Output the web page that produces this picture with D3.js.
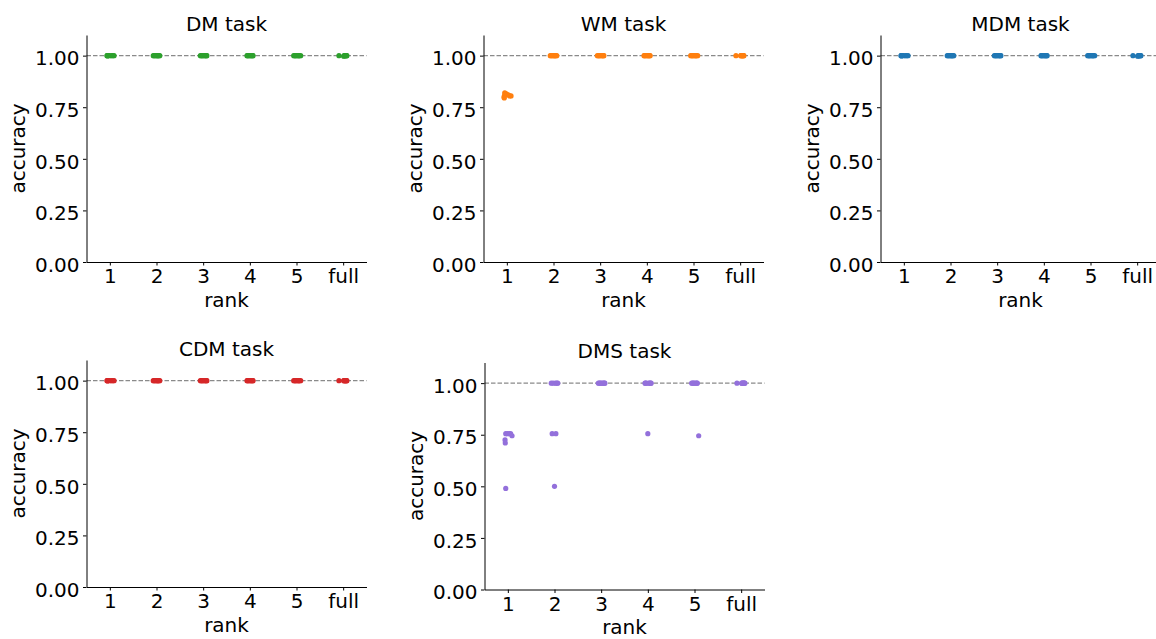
<!DOCTYPE html>
<html>
<head>
<meta charset="utf-8">
<script src="https://cdn.jsdelivr.net/npm/d3@7"></script>
<style>
  html, body { margin: 0; padding: 0; background: #fff; }
  svg { display: block; font-family: "DejaVu Sans", sans-serif; }
</style>
</head>
<body>
<svg id="chart" width="1156" height="639"></svg>
<script>
// ---------- data ----------
const ranks = ["1", "2", "3", "4", "5", "full"];
const yTicks = [0, 0.25, 0.5, 0.75, 1.0];
const taskNames = ["DM task", "WM task", "MDM task", "CDM task", "DMS task"];
const taskColors = ["#2ca02c", "#ff7f0e", "#1f77b4", "#d62728", "#9370db"];
const referenceLine = 1.0;

// within-category jitter (in category units), one row per rank
const jitter = [
  [-0.045, -0.01, 0.03, 0.06, 0.09, -0.06, -0.055, -0.045],
  [-0.05, 0.03, 0.0, -0.07, 0.02, 0.07, -0.03, 0.05],
  [-0.06, -0.02, 0.03, 0.07, -0.04, 0.0, 0.05, 0.08],
  [0.0, -0.06, 0.04, -0.03, 0.07, -0.05, 0.02, 0.06],
  [0.09, -0.06, -0.02, 0.03, 0.06, -0.04, 0.0, 0.05],
  [-0.09, 0.02, 0.05, 0.08, 0.03, 0.06, 0.01, 0.07]
];

// accuracy per network, one row per rank (1..5, full)
const dmAccuracy = [
  [1, 1, 1, 1, 1, 1, 1, 1],
  [1, 1, 1, 1, 1, 1, 1, 1],
  [1, 1, 1, 1, 1, 1, 1, 1],
  [1, 1, 1, 1, 1, 1, 1, 1],
  [1, 1, 1, 1, 1, 1, 1, 1],
  [1, 1, 1, 1, 1, 1, 0.997, 1]
];
const wmAccuracy = [
  [0.81, 0.815, 0.81, 0.805, 0.805, 0.80, 0.795, 0.82],
  [1, 1, 1, 1, 1, 1, 1, 1],
  [1, 1, 1, 1, 1, 1, 1, 1],
  [1, 1, 1, 1, 1, 1, 1, 1],
  [1, 1, 1, 1, 1, 1, 1, 1],
  [1, 1, 1, 1, 1, 1, 1, 1]
];
const mdmAccuracy = [
  [1, 1, 1, 1, 1, 1, 1, 1],
  [1, 1, 1, 1, 1, 1, 1, 1],
  [1, 1, 1, 1, 1, 1, 1, 1],
  [1, 1, 1, 1, 1, 1, 1, 1],
  [1, 1, 1, 1, 1, 1, 1, 1],
  [1, 1, 1, 1, 1, 1, 0.997, 1]
];
const cdmAccuracy = [
  [1, 1, 1, 1, 1, 1, 1, 1],
  [1, 1, 1, 1, 1, 1, 1, 1],
  [1, 1, 1, 1, 1, 1, 1, 1],
  [1, 1, 1, 1, 1, 1, 1, 1],
  [1, 1, 1, 1, 1, 1, 1, 1],
  [1, 1, 1, 1, 1, 1, 1, 1]
];
const dmsAccuracy = [
  [0.755, 0.755, 0.755, 0.755, 0.745, 0.725, 0.71, 0.49],
  [0.755, 0.755, 0.50, 1, 1, 1, 1, 1],
  [1, 1, 1, 1, 1, 1, 1, 1],
  [0.755, 1, 1, 1, 1, 1, 1, 1],
  [0.745, 1, 1, 1, 1, 1, 1, 1],
  [1, 1, 1, 1, 1, 1, 1, 1]
];
const taskData = [dmAccuracy, wmAccuracy, mdmAccuracy, cdmAccuracy, dmsAccuracy];

// ---------- layout ----------
const panelW = 280, panelH = 227;
const panelPos = [
  { left: 86.5, top: 35 },
  { left: 483.5, top: 35 },
  { left: 880.5, top: 35 },
  { left: 86.5, top: 360 },
  { left: 484.5, top: 362.5 }
];

const svg = d3.select("#chart");

const x = d3.scalePoint().domain(ranks).range([0, panelW]).padding(0.5);
const y = d3.scaleLinear().domain([0, 1.1]).range([panelH, 0]);

taskNames.forEach((name, ti) => {
  const pos = panelPos[ti];
  const g = svg.append("g").attr("transform", `translate(${pos.left},${pos.top})`);

  // reference dashed line
  g.append("line")
    .attr("x1", 0).attr("x2", panelW)
    .attr("y1", y(referenceLine)).attr("y2", y(referenceLine))
    .attr("stroke", "#8a8a8a")
    .attr("stroke-width", 1.2)
    .attr("stroke-dasharray", "4.5,2");

  // points
  const pts = [];
  taskData[ti].forEach((row, ri) => {
    row.forEach((v, k) => pts.push({ rank: ranks[ri], v: v, j: jitter[ri][k] }));
  });
  g.selectAll("circle.pt").data(pts).enter().append("circle")
    .attr("class", "pt")
    .attr("cx", d => x(d.rank) + d.j * x.step())
    .attr("cy", d => y(d.v))
    .attr("r", 2.6)
    .attr("fill", taskColors[ti]);

  // axes
  const yAxis = g.append("g")
    .call(d3.axisLeft(y).tickValues(yTicks).tickFormat(d3.format(".2f"))
      .tickSize(3.5).tickPadding(3.5).tickSizeOuter(0));
  const xAxis = g.append("g").attr("transform", `translate(0,${panelH})`)
    .call(d3.axisBottom(x).tickSize(3.5).tickPadding(3.5).tickSizeOuter(0));

  [yAxis, xAxis].forEach(a => {
    a.selectAll("path.domain").attr("stroke", "#000").attr("stroke-width", 1);
    a.selectAll(".tick line").attr("stroke", "#000").attr("stroke-width", 1);
    a.selectAll("text").attr("font-size", 20).attr("fill", "#000")
      .attr("font-family", "DejaVu Sans, sans-serif");
  });
  yAxis.selectAll("text").attr("dy", "0.46em");
  xAxis.selectAll("text").attr("dy", "0.71em");

  // title
  g.append("text")
    .attr("x", panelW / 2).attr("y", -4.5)
    .attr("text-anchor", "middle")
    .attr("font-size", 20)
    .attr("fill", "#000")
    .text(name);

  // x label
  g.append("text")
    .attr("x", panelW / 2).attr("y", panelH + 44.5)
    .attr("text-anchor", "middle")
    .attr("font-size", 20)
    .attr("fill", "#000")
    .text("rank");

  // y label
  g.append("text")
    .attr("transform", `translate(-61.5,${panelH / 2}) rotate(-90)`)
    .attr("text-anchor", "middle")
    .attr("font-size", 20)
    .attr("fill", "#000")
    .text("accuracy");
});
</script>
</body>
</html>
